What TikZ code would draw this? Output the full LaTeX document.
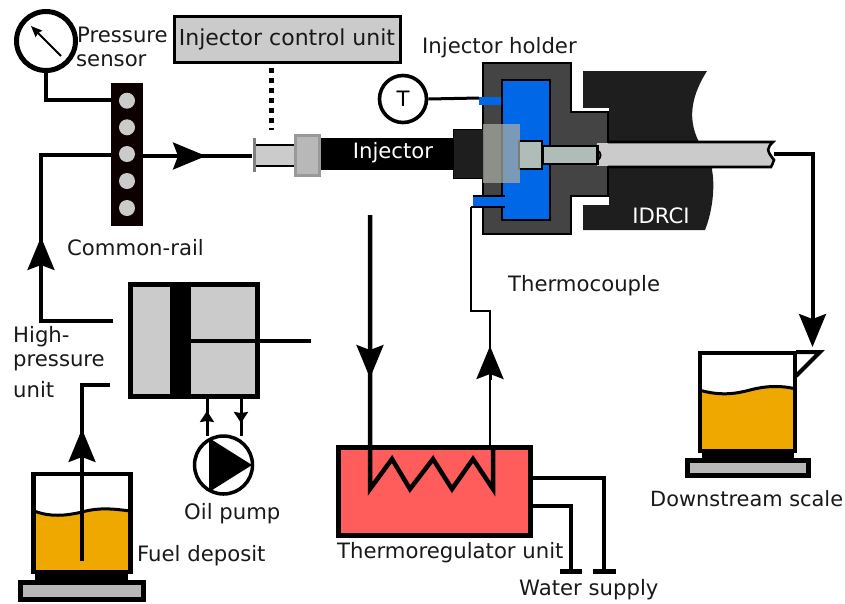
\documentclass[tikz,border=0pt]{standalone}
\usepackage{fontspec}
\setmainfont{DejaVu Sans}
\usetikzlibrary{arrows.meta,calc}
\definecolor{fuel}{HTML}{EEA800}
\definecolor{pale}{HTML}{CBCBCB}
\definecolor{scalegray}{HTML}{B8B8B8}
\definecolor{holderc}{HTML}{444444}
\definecolor{idrci}{HTML}{1E1E1E}
\definecolor{coolblue}{HTML}{0068E6}
\definecolor{hot}{HTML}{FF5C5C}
\definecolor{nozz}{HTML}{B0BCB8}
\definecolor{veil}{HTML}{AAAEA5}
\tikzset{
  lbl/.style={font=\fontsize{21.2}{25}\selectfont,inner sep=0pt,anchor=west,text=black!90},
  wlbl/.style={font=\fontsize{21.2}{25}\selectfont,inner sep=0pt,text=white},
  rbox/.style={rectangle,inner sep=0pt,outer sep=0pt},
  pipe/.style={line width=4.8pt,line join=miter,line cap=butt},
  bighead/.style={-{Stealth[length=33pt,width=27pt,inset=5pt]},line width=3pt},
  smallhead/.style={-{Stealth[length=11pt,width=14pt,inset=1pt]},line width=3pt},
}
\begin{document}
\begin{tikzpicture}[x=1pt,y=-1pt]
\useasboundingbox (0,0) rectangle (845,603);

% ---------- IDRCI block
\fill[idrci] (583,71) -- (707,71) .. controls (695,90) and (685,115) .. (699,142)
  -- (712,142) -- (712,170) .. controls (715,185) and (713,210) .. (705,230)
  -- (583,230) -- (583,205) -- (608,205) -- (608,112) -- (583,108) -- cycle;
\fill[idrci] (583,71) rectangle (608,108);
\fill[white] (571,108) rectangle (609,112);
\node[wlbl] (idrci) at (661,216) {IDRCI};

% ---------- holder
\draw[line width=2pt,draw=black,fill=holderc] (483,63) -- (571,63) -- (571,112) -- (608,112)
  -- (608,196) -- (571,196) -- (571,234) -- (483,234) -- cycle;
\fill[white] (572,197) rectangle (609,205);

% ---------- exhaust tube
\fill[pale] (597,143) rectangle (700,166);
\draw[line width=2.6pt,fill=pale] (608,142) -- (773,142) .. controls (767,148) and (766,150) .. (774,160)
  .. controls (773,163) and (772,165) .. (771,167) -- (608,167);

\node[rbox,draw=black,line width=2pt,fill=coolblue,minimum width=48pt,minimum height=140pt] (jacket) at (526,150) {};
\fill[coolblue] (479,97) rectangle (501,105);
\fill[coolblue] (473,196) rectangle (505,207);
\draw[line width=1.5pt] (473,196) -- (505,196);
\draw[line width=1.5pt] (471,207) -- (505,207);
\coordinate (tabT) at (479,98);
\coordinate (tabB) at (471,207);

% ---------- injector
\node[rbox,fill=black,minimum width=133pt,minimum height=32pt] (injector) at (386.5,154) {};
\node[wlbl] (injlabel) at (393,153) {Injector};
\node[rbox,fill=idrci,draw=black,line width=1pt,minimum width=30pt,minimum height=49pt] (collar) at (468,153.5) {};
\draw[line width=1.5pt,fill=black!70] (597,150) .. controls (602,152) and (602,158) .. (597,161);
\node[rbox,draw=black,line width=2.4pt,fill=nozz,minimum width=55pt,minimum height=18pt] (needle) at (570,155) {};
\node[rbox,fill=nozz,draw=black,line width=2.4pt,minimum width=23pt,minimum height=28pt] (nozzle) at (530.5,155) {};
\fill[veil,fill opacity=.72] (483,124) rectangle (520,183);

% injector rear
\draw[line width=2pt,fill=pale] (255,144.5) -- (295,144.5) -- (295,165.5) -- (255,165.5);
\draw[line width=3pt,draw=gray] (254,138) -- (254,172);
\node[rbox,fill=scalegray,draw=black!40,line width=3pt,minimum width=24pt,minimum height=40pt] (syr) at (307,155) {};

% ---------- thermometer
\node[circle,draw=black,line width=3.6pt,fill=white,minimum size=47pt,inner sep=0pt,font=\fontsize{21.2}{25}\selectfont] (therm) at (403,99) {T};
\draw[line width=3pt] (therm.east) -- (tabT);

% ---------- gauge
\node[circle,draw=black,line width=5pt,fill=white,minimum size=59pt,inner sep=0pt] (gauge) at (46,41) {};
\coordinate (needleEnd) at (61,56);
\coordinate (needleTip) at (31,26);
\draw[line width=2pt,-{Stealth[length=11pt,width=9pt,inset=1pt]}] (needleEnd) -- (needleTip);

% ---------- common rail
\node[rbox,fill=black!95!red,minimum width=32pt,minimum height=143pt] (rail) at (127,154.5) {};
\foreach \n/\yy in {1/100.7,2/127.3,3/154,4/181,5/208}
  \node[circle,fill=pale,minimum size=16pt,inner sep=0pt] (hole\n) at (127,\yy) {};
\coordinate (gaugeCorner) at (46,100);
\draw[pipe] (gauge.south) -- (gaugeCorner) -- (rail.west |- gaugeCorner);

% rail to injector
\coordinate (injIn) at (252,156);
\coordinate (railOut) at (143,156);
\draw[pipe] (railOut) -- (injIn);
\coordinate (h1a) at (173,156);
\coordinate (h1b) at (206,156);
\draw[bighead] (h1a) -- (h1b);

% high-pressure return to rail
\coordinate (hpA) at (113,321);
\coordinate (hpB) at (41,321);
\coordinate (hpC) at (41,155);
\draw[pipe] (hpA) -- (hpB) -- (hpC) -- (rail.west |- hpC);
\coordinate (h2a) at (41,270);
\coordinate (h2b) at (41,237);
\draw[bighead] (h2a) -- (h2b);

% ---------- control unit
\node[rbox,draw=black,line width=3pt,fill=pale,minimum width=226pt,minimum height=46pt,font=\fontsize{22}{26}\selectfont,text=black!90] (ecu) at (287,39) {\raisebox{-1.5pt}{Injector control unit}};
\coordinate (dotA) at (271.5,68);
\coordinate (dotB) at (271.5,130);
\draw[line width=5pt,dash pattern=on 5pt off 5pt] (dotA) -- (dotB);

% ---------- high-pressure unit
\node[rbox,draw=black,line width=5pt,fill=pale,minimum width=127pt,minimum height=112pt] (hp) at (194,340.5) {};
\node[rbox,fill=black,minimum width=21pt,minimum height=112pt] (piston) at (180.5,340.5) {};
\coordinate (rodEnd) at (311,341);
\draw[pipe] (piston.east |- rodEnd) -- (rodEnd);

% ---------- oil pump
\node[circle,draw=black,line width=3.5pt,fill=white,minimum size=58pt,inner sep=0pt] (pump) at (223.5,465) {};
\coordinate (tA) at (209,438);
\coordinate (tB) at (252,465);
\coordinate (tC) at (209,492);
\fill (tA) -- (tB) -- (tC) -- cycle;
\coordinate (pL1) at (207,399);
\coordinate (pL2) at (207,436);
\coordinate (pR1) at (241,399);
\coordinate (pR2) at (241,436);
\draw[line width=3pt] (pL1) -- (pL2);
\draw[line width=3pt] (pR1) -- (pR2);
\coordinate (sa1) at (207,423);
\coordinate (sa2) at (207,411);
\coordinate (sb1) at (241,411);
\coordinate (sb2) at (241,423);
\draw[smallhead] (sa1) -- (sa2);
\draw[smallhead] (sb1) -- (sb2);

% ---------- fuel deposit
\fill[fuel] (32,512) .. controls (50,518) and (65,517) .. (82,513) .. controls (100,508) and (115,510) .. (132,512) -- (132,573) -- (32,573) -- cycle;
\draw[line width=3pt] (34,511) .. controls (50,517) and (65,516) .. (82,512) .. controls (100,507) and (115,509) .. (130,511);
\node[rbox,draw=black,line width=4.5pt,minimum width=97pt,minimum height=98pt] (fuelbeaker) at (82,523) {};
\node[rbox,fill=black,minimum width=93pt,minimum height=8pt] (fuelfoot) at (81.5,576) {};
\node[rbox,draw=black,line width=5pt,fill=scalegray,minimum width=123pt,minimum height=17pt] (fuelscale) at (82,591) {};
\coordinate (fa) at (110,385);
\coordinate (fb) at (82,385);
\coordinate (fc) at (82,561);
\draw[pipe] (fa) -- (fb) -- (fc);
\coordinate (h3a) at (82,462);
\coordinate (h3b) at (82,429);
\draw[bighead] (h3a) -- (h3b);

% ---------- thermoregulator
\node[rbox,draw=black,line width=5pt,fill=hot,minimum width=192pt,minimum height=88pt] (reg) at (434.5,491.5) {};
\coordinate (c1) at (370,215);
\coordinate (z0) at (370,448);
\coordinate (z1) at (370,489);
\coordinate (z2) at (392,459);
\coordinate (z3) at (410,489);
\coordinate (z4) at (433,459);
\coordinate (z5) at (452,489);
\coordinate (z6) at (473,459);
\coordinate (z7) at (493,489);
\coordinate (z8) at (493,448);
\draw[line width=4.5pt,miter limit=10] (c1) -- (z0) -- (z1) -- (z2) -- (z3) -- (z4) -- (z5) -- (z6) -- (z7) -- (z8);
\coordinate (h4a) at (370,345);
\coordinate (h4b) at (370,378);
\draw[bighead] (h4a) -- (h4b);
% return line
\coordinate (r1) at (490,447);
\coordinate (r2) at (490,311);
\coordinate (r3) at (471,311);
\draw[line width=2.6pt] (r1) -- (r2) -- (r3) -- (tabB);
\coordinate (h5a) at (490,380);
\coordinate (h5b) at (490,346);
\draw[bighead] (h5a) -- (h5b);

% water supply
\coordinate (w1) at (604,478);
\coordinate (w2) at (604,570);
\coordinate (w3) at (571,506);
\coordinate (w4) at (571,570);
\draw[line width=4.8pt] (reg.east |- w1) -- (w1) -- (w2);
\draw[line width=4.8pt] (reg.east |- w3) -- (w3) -- (w4);
\coordinate (b1) at (593,571);
\coordinate (b2) at (616,571);
\coordinate (b3) at (560,571);
\coordinate (b4) at (582,571);
\draw[line width=5pt] (b1) -- (b2);
\draw[line width=5pt] (b3) -- (b4);

% ---------- downstream beaker
\fill[fuel] (699,390) .. controls (720,396) and (735,394) .. (750,390) .. controls (765,386) and (780,385) .. (796,389) -- (796,450) -- (699,450) -- cycle;
\draw[line width=3pt] (699,390) .. controls (720,396) and (735,394) .. (750,390) .. controls (765,386) and (780,385) .. (796,389);
\node[rbox,draw=black,line width=4.5pt,minimum width=95pt,minimum height=98pt] (dsbeaker) at (747.5,402) {};
\coordinate (sp1) at (796,352);
\coordinate (sp2) at (820,352);
\coordinate (sp3) at (796,376);
\draw[line width=4pt,miter limit=10] (sp1) -- (sp2) -- (sp3);
\node[rbox,fill=black,minimum width=92pt,minimum height=8pt] (dsfoot) at (748,454) {};
\node[rbox,draw=black,line width=5pt,fill=scalegray,minimum width=121pt,minimum height=15pt] (dsscale) at (747.5,467.5) {};
% outlet pipe
\coordinate (o1) at (774,154);
\coordinate (o2) at (813,154);
\coordinate (o3) at (813,320);
\draw[pipe] (o1) -- (o2) -- (o3);
\coordinate (h6a) at (812.5,313);
\coordinate (h6b) at (812.5,347);
\draw[bighead] (h6a) -- (h6b);

% ---------- labels
\node[lbl] (l1) at (77,35) {Pressure};
\node[lbl] (l2) at (76,61) {sensor};
\node[lbl] (l3) at (422,48) {Injector holder};
\node[lbl] (l4) at (67,248) {Common-rail};
\node[lbl] (l5) at (508,286) {Thermocouple};
\node[lbl] (l6) at (13,337) {High-};
\node[lbl] (l7) at (13,363) {pressure};
\node[lbl] (l8) at (13,390) {unit};
\node[lbl] (l9) at (184,514) {Oil pump};
\node[lbl] (l10) at (137,556) {Fuel deposit};
\node[lbl] (l11) at (337,553) {Thermoregulator unit};
\node[lbl] (l12) at (519,590) {Water supply};
\node[lbl,font=\fontsize{20.9}{25}\selectfont] (l13) at (650,499) {Downstream scale};
\end{tikzpicture}
\end{document}
